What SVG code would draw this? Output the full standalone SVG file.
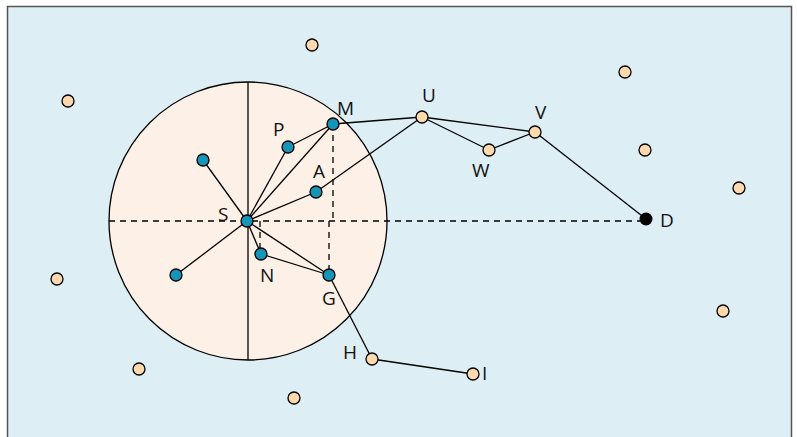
<svg xmlns="http://www.w3.org/2000/svg" width="797" height="437" viewBox="0 0 797 437">
<style>
.frame{fill:#ddeef5;stroke:#555;stroke-width:1.5}
.disc{fill:#fdf0e6;stroke:#000;stroke-width:1.3}
.ln{stroke:#000;stroke-width:1.3;fill:none}
.dash{stroke:#000;stroke-width:1.3;fill:none;stroke-dasharray:6 5}
.t{fill:#1596b9;stroke:#000;stroke-width:1.3}
.p{fill:#fed9ae;stroke:#000;stroke-width:1.3}
.d{fill:#000}
text{font-family:"Open Sans","Noto Sans",sans-serif;font-size:19px;fill:#111}
</style>
<path class="frame" d="M7.5,440 V6.5 H791.5 V440"/>
<g id="region">
<circle class="disc" cx="248" cy="221" r="139"/>
<line class="ln" x1="248" y1="82" x2="248" y2="360"/>
</g>
<g id="connectors">
<line class="dash" x1="109" y1="221" x2="646" y2="221"/>
<line class="dash" x1="333" y1="124" x2="333" y2="221"/>
<line class="dash" x1="329" y1="221" x2="329" y2="275"/>
<line class="dash" x1="260" y1="221" x2="260" y2="254"/>
<line class="ln" x1="247" y1="221" x2="333" y2="124"/>
<line class="ln" x1="247" y1="221" x2="288" y2="147"/>
<line class="ln" x1="288" y1="147" x2="333" y2="124"/>
<line class="ln" x1="247" y1="221" x2="316" y2="192"/>
<line class="ln" x1="316" y1="192" x2="422" y2="117"/>
<line class="ln" x1="333" y1="124" x2="422" y2="117"/>
<line class="ln" x1="422" y1="117" x2="535" y2="132"/>
<line class="ln" x1="422" y1="117" x2="489" y2="150"/>
<line class="ln" x1="489" y1="150" x2="535" y2="132"/>
<line class="ln" x1="535" y1="132" x2="646" y2="219"/>
<line class="ln" x1="247" y1="221" x2="261" y2="254"/>
<line class="ln" x1="261" y1="254" x2="329" y2="275"/>
<line class="ln" x1="247" y1="221" x2="329" y2="275"/>
<line class="ln" x1="329" y1="275" x2="372" y2="359"/>
<line class="ln" x1="372" y1="359" x2="473" y2="374"/>
<line class="ln" x1="247" y1="221" x2="203" y2="160"/>
<line class="ln" x1="247" y1="221" x2="176" y2="275"/>
</g>
<g id="S"><circle class="t" cx="247" cy="221" r="6"/><text x="218" y="221">S</text></g>
<g id="M"><circle class="t" cx="333" cy="124" r="6"/><text x="337" y="115">M</text></g>
<g id="P"><circle class="t" cx="288" cy="147" r="6"/><text x="273" y="136">P</text></g>
<g id="A"><circle class="t" cx="316" cy="192" r="6"/><text x="313" y="178">A</text></g>
<g id="N"><circle class="t" cx="261" cy="254" r="6"/><text x="260" y="282">N</text></g>
<g id="G"><circle class="t" cx="329" cy="275" r="6"/><text x="322" y="305">G</text></g>
<g id="n1"><circle class="t" cx="203" cy="160" r="6"/></g>
<g id="n2"><circle class="t" cx="176" cy="275" r="6"/></g>
<g id="U"><circle class="p" cx="422" cy="117" r="6"/><text x="422" y="102">U</text></g>
<g id="V"><circle class="p" cx="535" cy="132" r="6"/><text x="535" y="119">V</text></g>
<g id="W"><circle class="p" cx="489" cy="150" r="6"/><text x="472" y="177">W</text></g>
<g id="H"><circle class="p" cx="372" cy="359" r="6"/><text x="343" y="359">H</text></g>
<g id="I"><circle class="p" cx="473" cy="374" r="6"/><text x="482" y="380">I</text></g>
<g id="D"><circle class="d" cx="646" cy="219" r="6.5"/><text x="660" y="227">D</text></g>
<g id="o1"><circle class="p" cx="312" cy="45" r="6"/></g>
<g id="o2"><circle class="p" cx="68" cy="101" r="6"/></g>
<g id="o3"><circle class="p" cx="625" cy="72" r="6"/></g>
<g id="o4"><circle class="p" cx="645" cy="150" r="6"/></g>
<g id="o5"><circle class="p" cx="739" cy="188" r="6"/></g>
<g id="o6"><circle class="p" cx="57" cy="279" r="6"/></g>
<g id="o7"><circle class="p" cx="723" cy="311" r="6"/></g>
<g id="o8"><circle class="p" cx="139" cy="369" r="6"/></g>
<g id="o9"><circle class="p" cx="294" cy="398" r="6"/></g>
</svg>
